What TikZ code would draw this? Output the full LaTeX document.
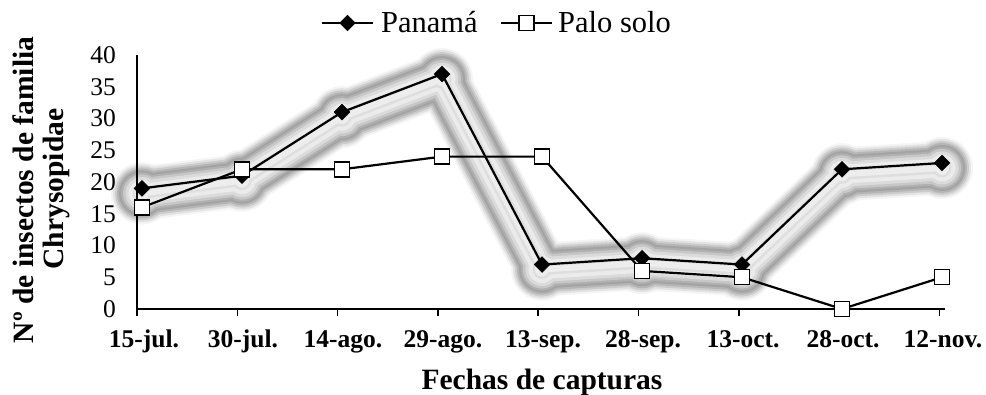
\documentclass[tikz,border=0pt]{standalone}
\usepackage{fontspec}
\setmainfont{Liberation Serif}
\usetikzlibrary{shapes.geometric}
\tikzset{
  glow/.style args={#1/#2}{draw=#1, line width=#2, line join=round, line cap=round},
  series/.style={draw=black, line width=2.2pt, line join=round},
  panmark/.style={diamond, fill=black, draw=black, inner sep=0pt, minimum size=16pt},
  palomark/.style={rectangle, fill=white, draw=black, line width=1.4pt, inner sep=0pt, minimum size=15pt},
  ticklab/.style={font=\fontsize{25.5}{28}\selectfont, anchor=east, inner sep=0pt},
  datelab/.style={font=\fontsize{25.5}{28}\selectfont\bfseries, anchor=base, inner sep=0pt},
  titlelab/.style={font=\fontsize{29.5}{32}\selectfont\bfseries, anchor=base, inner sep=0pt},
  legendlab/.style={font=\fontsize{30.5}{33}\selectfont, anchor=base west, inner sep=0pt}
}
% one ring of the blurred shadow: colour, width
\newcommand{\glowlayer}[2]{%
  \draw[glow=#1/#2] (pan1) -- (pan2) -- (pan3) -- (pan4) -- (pan5) -- (pan6) -- (pan7) -- (pan8) -- (pan9);
  \fill[#1] (pan1) circle[radius={#2/2+4pt}] (pan2) circle[radius={#2/2+4pt}]
    (pan3) circle[radius={#2/2+4pt}] (pan4) circle[radius={#2/2+4pt}]
    (pan5) circle[radius={#2/2+4pt}] (pan6) circle[radius={#2/2+4pt}]
    (pan7) circle[radius={#2/2+4pt}] (pan8) circle[radius={#2/2+4pt}]
    (pan9) circle[radius={#2/2+4pt}];}
\begin{document}
\begin{tikzpicture}[x=1pt, y=-1pt]
  \useasboundingbox (0,0) rectangle (986,394);
  % data points
  \coordinate (pan1) at (142,188.35);
  \coordinate (pan2) at (242,175.65);
  \coordinate (pan3) at (342,112.15);
  \coordinate (pan4) at (442,74.05);
  \coordinate (pan5) at (542,264.55);
  \coordinate (pan6) at (642,258.2);
  \coordinate (pan7) at (742,264.55);
  \coordinate (pan8) at (842,169.3);
  \coordinate (pan9) at (942,162.95);
  \coordinate (palo1) at (142,207.4);
  \coordinate (palo2) at (242,169.3);
  \coordinate (palo3) at (342,169.3);
  \coordinate (palo4) at (442,156.6);
  \coordinate (palo5) at (542,156.6);
  \coordinate (palo6) at (642,270.9);
  \coordinate (palo7) at (742,277.25);
  \coordinate (palo8) at (842,309);
  \coordinate (palo9) at (942,277.25);

  % glow under the Panama series
  \begin{scope}[transform canvas={yshift=-5pt}]
    \glowlayer{gray!8}{54pt}
    \glowlayer{gray!22}{50pt}
    \glowlayer{gray!40}{46pt}
    \glowlayer{gray!58}{42pt}
    \glowlayer{gray!72}{38pt}
    \glowlayer{gray!62}{34pt}
    \glowlayer{gray!44}{30pt}
    \glowlayer{gray!28}{25pt}
    \glowlayer{gray!16}{19pt}
    \glowlayer{gray!26}{11pt}
    \glowlayer{gray!14}{6pt}
  \end{scope}

  % axes
  \draw[line width=1.5pt] (137,55) -- (137,309);
  \draw[line width=2pt] (137,309) -- (945,309);
  \draw[line width=1.5pt] (137,309) -- (137,316);
  \draw[line width=1.5pt] (237.3,309) -- (237.3,316);
  \draw[line width=1.5pt] (337.6,309) -- (337.6,316);
  \draw[line width=1.5pt] (437.9,309) -- (437.9,316);
  \draw[line width=1.5pt] (538.2,309) -- (538.2,316);
  \draw[line width=1.5pt] (638.5,309) -- (638.5,316);
  \draw[line width=1.5pt] (738.8,309) -- (738.8,316);
  \draw[line width=1.5pt] (839.1,309) -- (839.1,316);
  \draw[line width=1.5pt] (939.4,309) -- (939.4,316);

  % y tick labels
  \node[ticklab] (y0) at (116,309) {0};
  \node[ticklab] (y5) at (116,277.25) {5};
  \node[ticklab] (y10) at (116,245.5) {10};
  \node[ticklab] (y15) at (116,213.75) {15};
  \node[ticklab] (y20) at (116,182) {20};
  \node[ticklab] (y25) at (116,150.25) {25};
  \node[ticklab] (y30) at (116,118.5) {30};
  \node[ticklab] (y35) at (116,86.75) {35};
  \node[ticklab] (y40) at (116,55) {40};

  % x labels
  \node[datelab] (d1) at (144,347) {15-jul.};
  \node[datelab] (d2) at (243,347) {30-jul.};
  \node[datelab] (d3) at (343,347) {14-ago.};
  \node[datelab] (d4) at (443,347) {29-ago.};
  \node[datelab] (d5) at (543,347) {13-sep.};
  \node[datelab] (d6) at (643,347) {28-sep.};
  \node[datelab] (d7) at (743,347) {13-oct.};
  \node[datelab] (d8) at (843,347) {28-oct.};
  \node[datelab] (d9) at (943,347) {12-nov.};

  % axis titles
  \node[titlelab] (xtitle) at (542,389) {Fechas de capturas};
  \node[titlelab, rotate=90] (ytitle1) at (33,190) {Nº de insectos de familia};
  \node[titlelab, rotate=90] (ytitle2) at (63,189) {Chrysopidae};

  % series
  \draw[series] (pan1) -- (pan2) -- (pan3) -- (pan4) -- (pan5) -- (pan6) -- (pan7) -- (pan8) -- (pan9);
  \draw[series] (palo1) -- (palo2) -- (palo3) -- (palo4) -- (palo5) -- (palo6) -- (palo7) -- (palo8) -- (palo9);
  \node[panmark] (pm1) at (pan1) {};
  \node[panmark] (pm2) at (pan2) {};
  \node[panmark] (pm3) at (pan3) {};
  \node[panmark] (pm4) at (pan4) {};
  \node[panmark] (pm5) at (pan5) {};
  \node[panmark] (pm6) at (pan6) {};
  \node[panmark] (pm7) at (pan7) {};
  \node[panmark] (pm8) at (pan8) {};
  \node[panmark] (pm9) at (pan9) {};
  \node[palomark] (sm1) at (palo1) {};
  \node[palomark] (sm2) at (palo2) {};
  \node[palomark] (sm3) at (palo3) {};
  \node[palomark] (sm4) at (palo4) {};
  \node[palomark] (sm5) at (palo5) {};
  \node[palomark] (sm6) at (palo6) {};
  \node[palomark] (sm7) at (palo7) {};
  \node[palomark] (sm8) at (palo8) {};
  \node[palomark] (sm9) at (palo9) {};

  % legend
  \coordinate (lpanA) at (322,23);
  \coordinate (lpanB) at (373,23);
  \coordinate (lpaloA) at (501,23);
  \coordinate (lpaloB) at (552,23);
  \draw[series] (lpanA) -- (lpanB);
  \node[panmark] (lpan) at (347.5,23) {};
  \node[legendlab] (lpantxt) at (381,32) {Panamá};
  \draw[series] (lpaloA) -- (lpaloB);
  \node[palomark] (lpalo) at (526.5,23) {};
  \node[legendlab] (lpalotxt) at (558,32) {Palo solo};
\end{tikzpicture}
\end{document}
